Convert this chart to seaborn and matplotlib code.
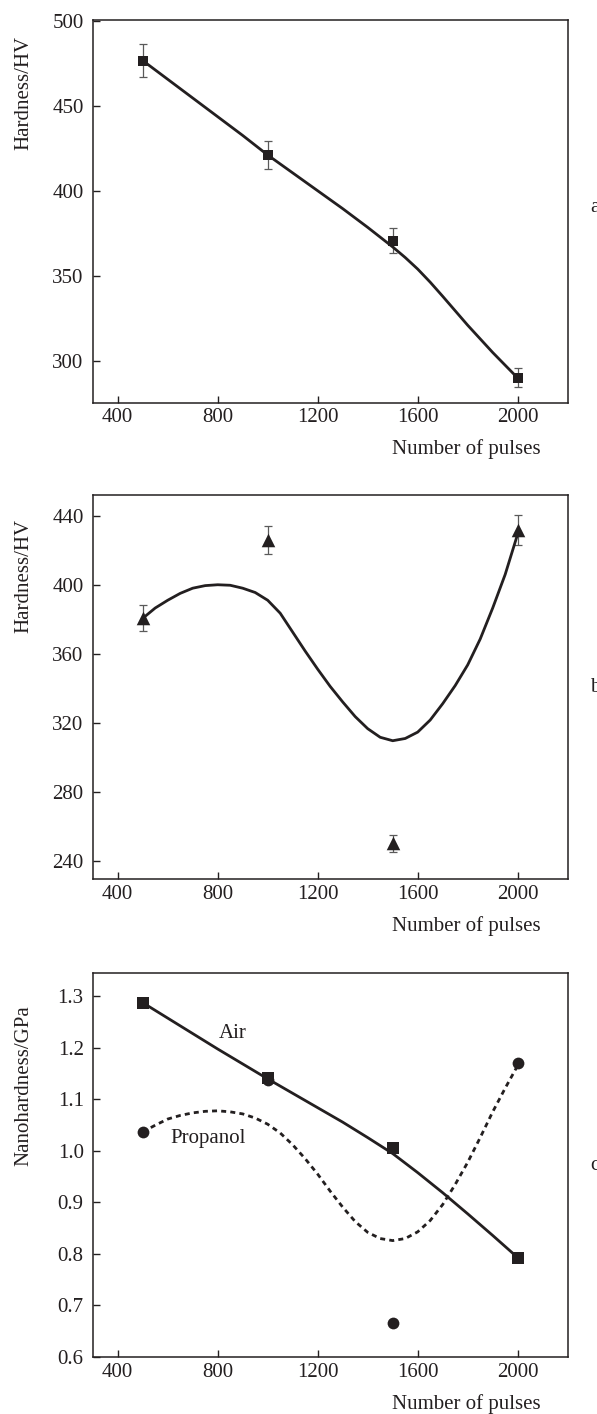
import numpy as np
import pandas as pd
import matplotlib
matplotlib.use("Agg")
import matplotlib.pyplot as plt
import seaborn as sns

# ---------------- data ----------------
pulses = [500, 1000, 1500, 2000]

# panel a: Hardness (squares)
hv_a = [476.5, 421.0, 370.7, 290.2]
hv_a_err = [9.5, 8.5, 7.4, 5.7]
fit_a_x = [500, 600, 700, 800, 900, 1000, 1100, 1200, 1300, 1400, 1500,
           1550, 1600, 1650, 1700, 1750, 1800, 1850, 1900, 1950, 2000]
fit_a_y = [476.5, 465.5, 454.5, 443.5, 432.5, 421.0, 410.5, 400.0, 389.5,
           378.5, 367.0, 360.8, 354.0, 346.3, 338.0, 329.5, 321.0, 313.0,
           305.0, 297.5, 290.0]

# panel b: Hardness (triangles)
hv_b = [380.5, 426.0, 250.0, 431.7]
hv_b_err = [7.5, 8.3, 5.0, 8.5]
fit_b_x = [500, 550, 600, 650, 700, 750, 800, 850, 900, 950, 1000, 1050,
           1100, 1150, 1200, 1250, 1300, 1350, 1400, 1450, 1500, 1550, 1600,
           1650, 1700, 1750, 1800, 1850, 1900, 1950, 2000]
fit_b_y = [380.5, 386.5, 391.0, 395.0, 398.0, 399.5, 400.0, 399.7, 398.0,
           395.5, 391.0, 383.5, 372.5, 361.5, 351.0, 341.0, 332.0, 323.5,
           316.5, 311.5, 309.5, 310.8, 314.5, 321.5, 331.0, 341.5, 353.5,
           368.5, 386.5, 406.0, 429.5]

# panel c: Nanohardness
nano_air = [1.288, 1.141, 1.005, 0.793]
nano_prop = [1.037, 1.138, 0.666, 1.170]
fit_air_x = [500, 600, 700, 800, 900, 1000, 1100, 1200, 1300, 1400, 1500,
             1600, 1700, 1800, 1900, 2000]
fit_air_y = [1.288, 1.258, 1.228, 1.198, 1.169, 1.140, 1.112, 1.084, 1.056,
             1.026, 0.995, 0.958, 0.919, 0.878, 0.836, 0.793]
fit_prop_x = [500, 550, 600, 650, 700, 750, 800, 850, 900, 950, 1000, 1050,
              1100, 1150, 1200, 1250, 1300, 1350, 1400, 1450, 1500, 1550,
              1600, 1650, 1700, 1750, 1800, 1850, 1900, 1950, 2000]
fit_prop_y = [1.037, 1.050, 1.062, 1.069, 1.074, 1.077, 1.078, 1.076, 1.072,
              1.064, 1.052, 1.035, 1.012, 0.985, 0.955, 0.922, 0.891, 0.863,
              0.842, 0.830, 0.826, 0.830, 0.843, 0.865, 0.896, 0.935, 0.978,
              1.026, 1.076, 1.122, 1.166]

x_ticks = [400, 800, 1200, 1600, 2000]
y_ticks_a = [300, 350, 400, 450, 500]
y_ticks_b = [240, 280, 320, 360, 400, 440]
y_ticks_c = [0.6, 0.7, 0.8, 0.9, 1.0, 1.1, 1.2, 1.3]

# ---------------- style ----------------
sns.set_theme(style="white")
plt.rcParams["font.family"] = ["Liberation Serif", "DejaVu Serif"]
INK = "#231f20"
ERR = "#5a5a5a"
FS = 15

W, H = 597, 1414
fig = plt.figure(figsize=(W / 100, H / 100), dpi=100)


def px_axes(left, top, right, bottom):
    return fig.add_axes([left / W, 1 - bottom / H, (right - left) / W, (bottom - top) / H])


ax_a = px_axes(92.7, 19.7, 567.7, 402.7)
ax_b = px_axes(92.7, 495.3, 567.7, 879.3)
ax_c = px_axes(92.7, 973.3, 567.7, 1357.0)


def style_axes(ax, ylim, yticks, ylabel, ylab_y, yfmt=None):
    ax.set_xlim(300, 2200)
    ax.set_ylim(*ylim)
    ax.set_xticks(x_ticks)
    ax.set_yticks(yticks)
    if yfmt:
        ax.set_yticklabels([yfmt.format(v) for v in yticks])
    ax.tick_params(axis="both", direction="in", length=5, width=1.0,
                   color=INK, labelcolor=INK, labelsize=FS,
                   bottom=True, left=True, top=False, right=False)
    ax.tick_params(axis="x", pad=4)
    ax.tick_params(axis="y", pad=6.5)
    for s in ax.spines.values():
        s.set_color(INK)
        s.set_linewidth(1.1)
        s.set_visible(True)
    ax.set_xlabel("Number of pulses", fontsize=FS, color=INK, ha="right", va="center")
    ax.xaxis.set_label_coords(0.943, -0.122)
    ax.set_ylabel(ylabel, fontsize=FS, color=INK)
    ax.yaxis.set_label_coords(-0.125, ylab_y)
    ax.grid(False)


# ---------------- panel a ----------------
ax = ax_a
ax.errorbar(pulses, hv_a, yerr=hv_a_err, fmt="none", ecolor=ERR,
            elinewidth=0.9, capsize=3.2, capthick=0.9, zorder=2)
sns.lineplot(x=fit_a_x, y=fit_a_y, ax=ax, color=INK, linewidth=2.0,
             sort=False, estimator=None, zorder=3)
sns.scatterplot(x=pulses, y=hv_a, ax=ax, marker="s", s=62, color=INK,
                linewidth=0, zorder=4)
style_axes(ax, (275.5, 500.5), y_ticks_a, "Hardness/HV", 0.808)

# ---------------- panel b ----------------
ax = ax_b
ax.errorbar(pulses, hv_b, yerr=hv_b_err, fmt="none", ecolor=ERR,
            elinewidth=0.9, capsize=3.2, capthick=0.9, zorder=2)
sns.lineplot(x=fit_b_x, y=fit_b_y, ax=ax, color=INK, linewidth=2.0,
             sort=False, estimator=None, zorder=3)
sns.scatterplot(x=pulses, y=hv_b, ax=ax, marker="^", s=95, color=INK,
                linewidth=0, zorder=4)
style_axes(ax, (229.1, 451.9), y_ticks_b, "Hardness/HV", 0.790)

# ---------------- panel c ----------------
ax = ax_c
sns.lineplot(x=fit_air_x, y=fit_air_y, ax=ax, color=INK, linewidth=2.0,
             sort=False, estimator=None, zorder=3)
sns.lineplot(x=fit_prop_x, y=fit_prop_y, ax=ax, color=INK, linewidth=2.0,
             sort=False, estimator=None, zorder=3)
ax.lines[-1].set_dashes((1.8, 1.5))
sns.scatterplot(x=pulses, y=nano_prop, ax=ax, marker="o", s=72, color=INK,
                linewidth=0, zorder=4)
sns.scatterplot(x=pulses, y=nano_air, ax=ax, marker="s", s=64, color=INK,
                linewidth=0, zorder=5)
ax.text(861, 1.229, "Air", fontsize=FS, color=INK, ha="center", va="center")
ax.text(761, 1.025, "Propanol", fontsize=FS, color=INK, ha="center", va="center")
style_axes(ax, (0.6, 1.345), y_ticks_c, "Nanohardness/GPa", 0.706, yfmt="{:.1f}")

# panel letters (partly cut by the right edge, as in the source)
for letter, ypx in [("a", 207), ("b", 688), ("c", 1165)]:
    fig.text(590 / W, 1 - ypx / H, letter, fontsize=FS, color=INK,
             ha="left", va="center")

fig.savefig("out.png", dpi=100)
